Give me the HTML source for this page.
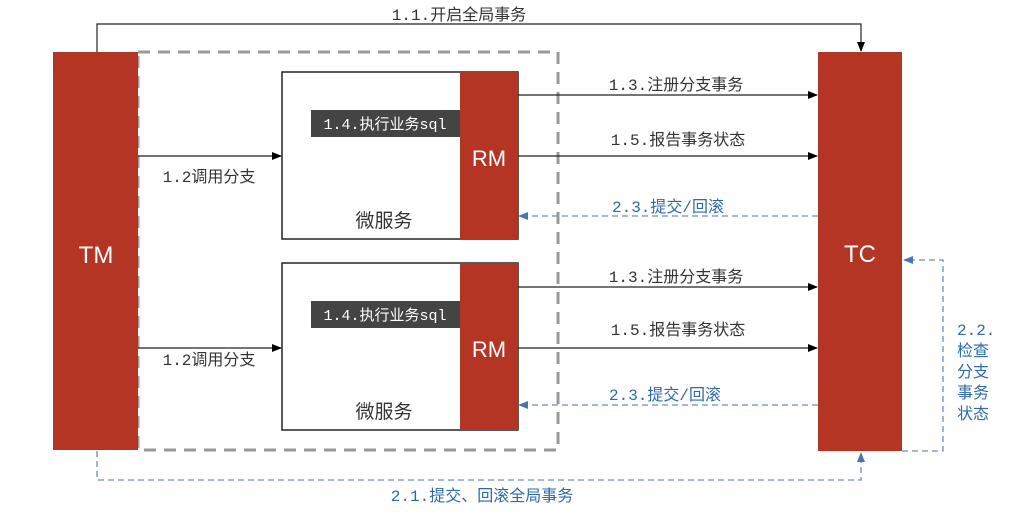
<html><body style="margin:0;background:#fff;width:1011px;height:523px;overflow:hidden">
<svg width="1011" height="523" xmlns="http://www.w3.org/2000/svg" font-family="'Liberation Mono','Noto Sans CJK SC',monospace">
<defs>
<marker id="a" markerWidth="10" markerHeight="8" refX="9" refY="4" orient="auto" markerUnits="userSpaceOnUse"><path d="M0,0L10,4L0,8z" fill="#000"/></marker>
<marker id="b" markerWidth="10" markerHeight="8" refX="9" refY="4" orient="auto" markerUnits="userSpaceOnUse"><path d="M0,0L10,4L0,8z" fill="#4a74b4"/></marker>
</defs>
<rect x="138" y="52" width="420" height="398" fill="none" stroke="#999" stroke-width="3" stroke-dasharray="12,8"/>
<rect x="53" y="52" width="85" height="398" fill="#b53525"/>
<rect x="818" y="52" width="84" height="399" fill="#b53525"/>
<text x="96" y="263" fill="#fff" font-size="24" text-anchor="middle" font-family="'Liberation Sans',sans-serif">TM</text>
<text x="860" y="262" fill="#fff" font-size="24" text-anchor="middle" font-family="'Liberation Sans',sans-serif">TC</text>
<g font-family="'Liberation Sans','Noto Sans CJK SC',sans-serif">
<rect x="282" y="72" width="236" height="167" fill="#fff" stroke="#222" stroke-width="1.5"/>
<rect x="460" y="72" width="58" height="167" fill="#b53525"/>
<text x="489" y="166" fill="#fff" font-size="22" text-anchor="middle">RM</text>
<text x="384" y="227" fill="#333" font-size="19" text-anchor="middle">微服务</text>
<rect x="282" y="263" width="236" height="167" fill="#fff" stroke="#222" stroke-width="1.5"/>
<rect x="460" y="263" width="58" height="167" fill="#b53525"/>
<text x="489" y="357" fill="#fff" font-size="22" text-anchor="middle">RM</text>
<text x="384" y="418" fill="#333" font-size="19" text-anchor="middle">微服务</text>
</g>
<rect x="311" y="110" width="149" height="27" fill="#444"/>
<text x="385" y="129" fill="#fff" font-size="15" text-anchor="middle">1.4.执行业务sql</text>
<rect x="311" y="301" width="149" height="27" fill="#444"/>
<text x="385" y="320" fill="#fff" font-size="15" text-anchor="middle">1.4.执行业务sql</text>
<g stroke="#222" stroke-width="1.2" fill="none">
<path d="M97,52V24H861V51" marker-end="url(#a)"/>
<path d="M138,156H281" marker-end="url(#a)"/>
<path d="M138,348H281" marker-end="url(#a)"/>
<path d="M518,95H817" marker-end="url(#a)"/>
<path d="M518,156H817" marker-end="url(#a)"/>
<path d="M518,287H817" marker-end="url(#a)"/>
<path d="M518,348H817" marker-end="url(#a)"/>
</g>
<g stroke="#6c8cbf" stroke-width="1.3" fill="none" stroke-dasharray="6,4">
<path d="M818,216H519" marker-end="url(#b)"/>
<path d="M818,405H519" marker-end="url(#b)"/>
<path d="M902,451H943V260H904" marker-end="url(#b)"/>
<path d="M97,451V480H861V453" marker-end="url(#b)"/>
</g>
<g font-size="16" fill="#333">
<text x="459" y="20" text-anchor="middle">1.1.开启全局事务</text>
<text x="209" y="182" text-anchor="middle">1.2调用分支</text>
<text x="209" y="365" text-anchor="middle">1.2调用分支</text>
<text x="676" y="90" text-anchor="middle">1.3.注册分支事务</text>
<text x="678" y="145" text-anchor="middle">1.5.报告事务状态</text>
<text x="676" y="282" text-anchor="middle">1.3.注册分支事务</text>
<text x="678" y="335" text-anchor="middle">1.5.报告事务状态</text>
</g>
<g font-size="16" fill="#2e6aa8">
<text x="668" y="212" text-anchor="middle">2.3.提交/回滚</text>
<text x="665" y="400" text-anchor="middle">2.3.提交/回滚</text>
<text x="482" y="501" text-anchor="middle">2.1.提交、回滚全局事务</text>
<text x="957" y="335">2.2.</text>
<text x="957" y="356">检查</text>
<text x="957" y="377">分支</text>
<text x="957" y="398">事务</text>
<text x="957" y="419">状态</text>
</g>
</svg>
</body></html>
